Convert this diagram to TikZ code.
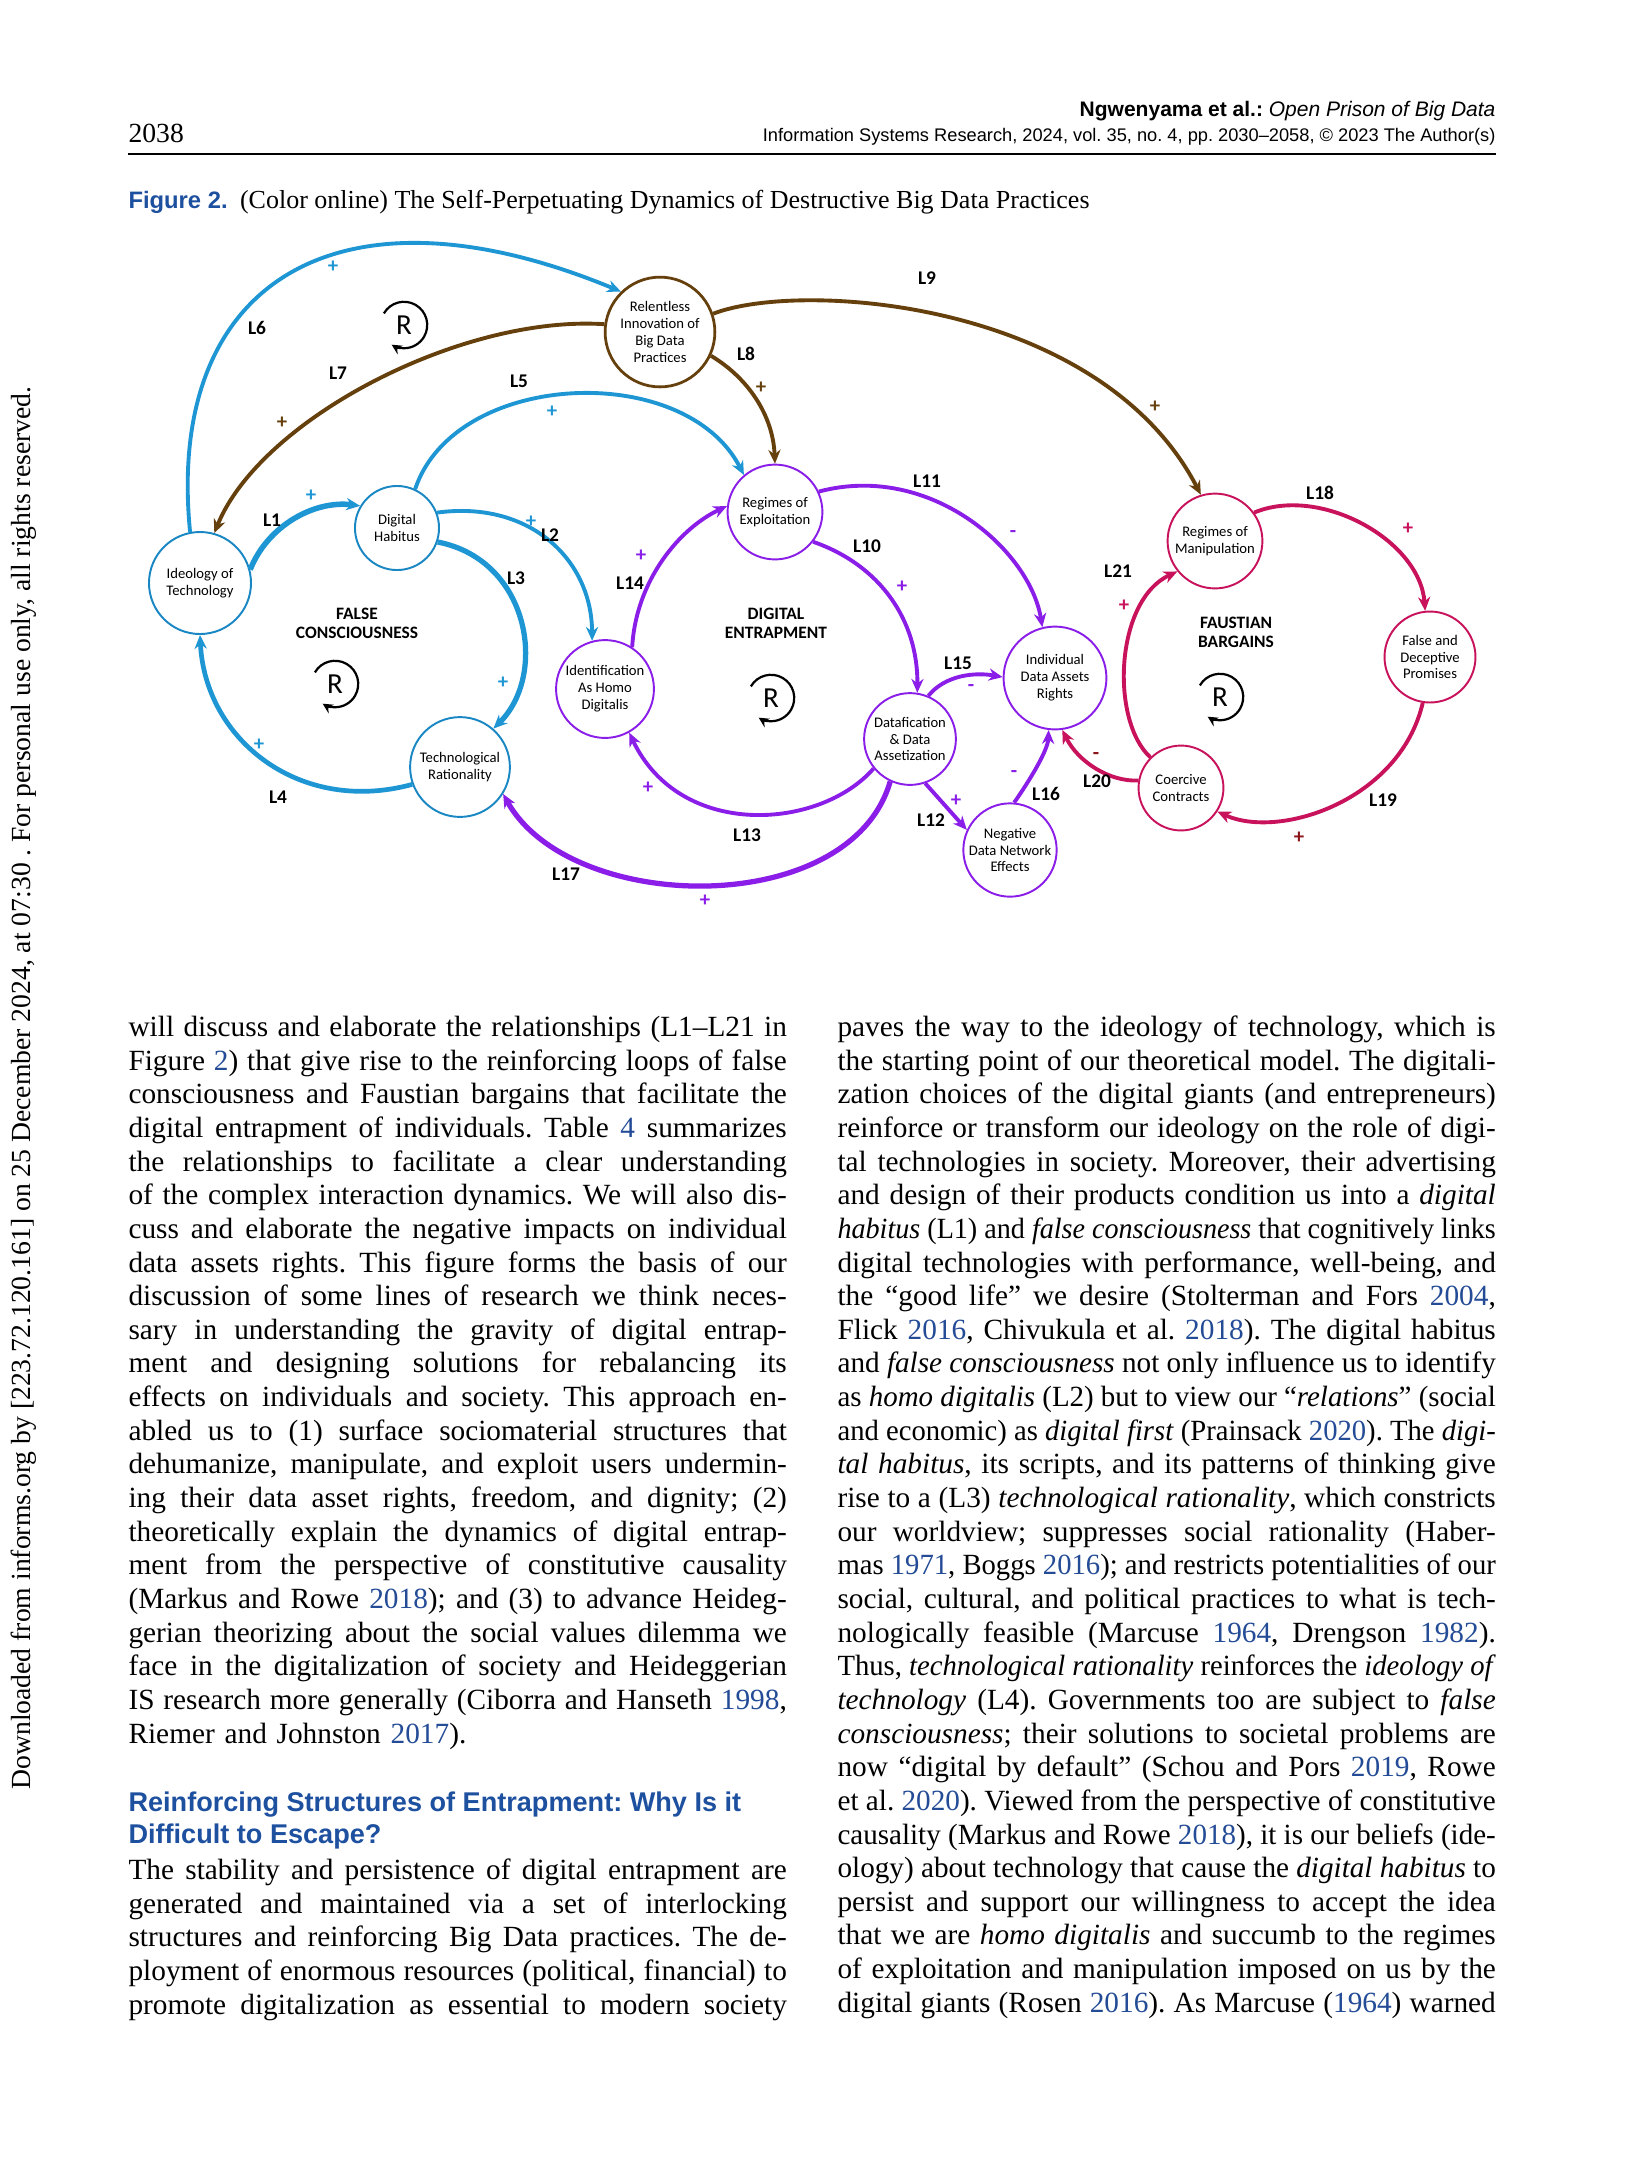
\documentclass[tikz,border=0pt]{standalone}
\usepackage{graphicx}
\usepackage{fontspec}
\setmainfont{Liberation Serif}
\setsansfont{Liberation Sans}
\newfontfamily\figfont{Carlito}
\usetikzlibrary{arrows.meta}
\definecolor{fcblue}{RGB}{30,150,212}
\definecolor{fcring}{RGB}{25,135,195}
\definecolor{bdbrown}{RGB}{102,64,12}
\definecolor{depurple}{RGB}{138,30,232}
\definecolor{fbred}{RGB}{200,18,92}
\definecolor{fbdark}{RGB}{140,20,25}
\definecolor{citeblue}{RGB}{35,75,150}
\definecolor{headblue}{RGB}{30,80,160}
\frenchspacing
\newlength\colw
\setlength\colw{238.1pt}
\newsavebox\linebox
% one justified line of a column (squeezed if it is too long)
\newcommand\jl[1]{\sbox\linebox{\spaceskip=0pt\xspaceskip=0pt #1}%
  \ifdim\wd\linebox>\colw
    \resizebox{\colw}{\height}{\usebox\linebox}%
  \else
    \makebox[\colw][s]{\spaceskip=0pt\xspaceskip=0pt #1}%
  \fi}
\newcommand\yr[1]{\textcolor{citeblue}{#1}}

\begin{document}
\begin{tikzpicture}[x=0.005in,y=-0.005in,>={Stealth[length=5pt,width=4.4pt]},
  var/.style={circle,draw,fill=white,line width=0.7pt,inner sep=0pt,align=center,
    font=\figfont\fontsize{5.3}{6.1}\selectfont},
  link/.style={->,line width=1.4pt},
  lbl/.style={font=\figfont\bfseries\fontsize{7}{8}\selectfont},
  sgn/.style={font=\figfont\bfseries\fontsize{7.5}{8}\selectfont},
  loopname/.style={align=center,font=\figfont\bfseries\fontsize{6.3}{6.8}\selectfont},
  rmark/.style={font=\figfont\fontsize{10.5}{11}\selectfont,inner sep=0pt},
  column/.style={anchor=north west,inner sep=0pt,text width=\colw,align=left,
    font=\fontsize{10.6}{12.17}\selectfont}]
\useasboundingbox (0,0) rectangle (1625,2175);
\fill[white] (0,0) rectangle (1625,2175);

% running head
\node[anchor=base west,inner sep=0pt,font=\fontsize{10}{12}\selectfont] (pnum) at (128,142) {2038};
\node[anchor=base east,inner sep=0pt,font=\sffamily\fontsize{7.6}{9}\selectfont] (runhead) at (1496,116)
  {\textbf{Ngwenyama et al.:} \textit{Open Prison of Big Data}};
\node[anchor=base east,inner sep=0pt,font=\sffamily\fontsize{6.6}{8}\selectfont] (journal) at (1496,141.5)
  {Information Systems Research, 2024, vol.~35, no.~4, pp.~2030–2058, © 2023 The Author(s)};
\draw[line width=0.6pt] (128,154) -- (1496,154);

% side note
\node[anchor=base west,rotate=90,inner sep=0pt,font=\fontsize{10}{11}\selectfont] (dlnote) at (30.5,1790)
  {Downloaded from informs.org by [223.72.120.161] on 25 December 2024, at 07:30 . For personal use only, all rights reserved.};

% caption
\node[anchor=base west,inner sep=0pt] (caption) at (128,208)
  {\textcolor{headblue}{\sffamily\bfseries\fontsize{8.6}{10}\selectfont Figure 2.}\hspace{4.5pt}{\fontsize{9.4}{11}\selectfont (Color online) The Self-Perpetuating Dynamics of Destructive Big Data Practices}};

% variables
\node[var,draw=bdbrown,line width=1pt,minimum size=39.7pt] (relent) at (660,332) {Relentless\\Innovation of\\Big Data\\Practices};
\node[var,draw=fcring,minimum size=36.9pt] (ideo) at (200,583) {Ideology of\\Technology};
\node[var,draw=fcring,minimum size=30.4pt] (habit) at (397,528) {Digital\\Habitus};
\node[var,draw=fcring,minimum size=36.1pt] (techrat) at (460,767) {Technological\\Rationality};
\node[var,draw=depurple,minimum size=34.3pt] (exploit) at (775,512) {Regimes of\\Exploitation};
\node[var,draw=depurple,minimum size=35.4pt] (homo) at (605,689) {Identification\\As Homo\\Digitalis};
\node[var,draw=depurple,minimum size=33.2pt] (datafy) at (910,739) {Datafication\\\& Data\\Assetization};
\node[var,draw=depurple,minimum size=37.2pt] (rights) at (1055,678) {Individual\\Data Assets\\Rights};
\node[var,draw=depurple,minimum size=32.5pt] (netfx) at (1010,850) {Negative\\Data Network\\Effects};
\node[var,draw=fbred,minimum size=34.3pt] (manip) at (1215,541) {Regimes of\\Manipulation};
\node[var,draw=fbred,minimum size=32.9pt] (promise) at (1430,657) {False and\\Deceptive\\Promises};
\node[var,draw=fbred,minimum size=30.7pt] (coerce) at (1181,788) {Coercive\\Contracts};

% loop names
\node[loopname] (fcname) at (357,623) {FALSE\\CONSCIOUSNESS};
\node[loopname] (dename) at (776,623) {DIGITAL\\ENTRAPMENT};
\node[loopname] (fbname) at (1236,632) {FAUSTIAN\\BARGAINS};

% reinforcing markers
\node[rmark] (rtop) at (404,325) {R};
\node[rmark] (rfc) at (335,684) {R};
\node[rmark] (rde) at (771,698) {R};
\node[rmark] (rfb) at (1220,697) {R};
\draw[-{Stealth[length=3.6pt,width=3.6pt]},line width=0.8pt] ([shift={(150:8.4pt)}]rtop.center) arc[start angle=150,end angle=-122,radius=8.4pt];
\draw[-{Stealth[length=3.6pt,width=3.6pt]},line width=0.8pt] ([shift={(150:8.4pt)}]rfc.center) arc[start angle=150,end angle=-122,radius=8.4pt];
\draw[-{Stealth[length=3.6pt,width=3.6pt]},line width=0.8pt] ([shift={(150:8.4pt)}]rde.center) arc[start angle=150,end angle=-122,radius=8.4pt];
\draw[-{Stealth[length=3.6pt,width=3.6pt]},line width=0.8pt] ([shift={(150:8.4pt)}]rfb.center) arc[start angle=150,end angle=-122,radius=8.4pt];

% false consciousness links
\draw[link,fcblue,line width=2pt] (ideo.15) .. controls (268,525) and (315,500) .. (habit.149);
\draw[link,fcblue] (habit.21) .. controls (530,500) and (592,560) .. (homo.105);
\draw[link,fcblue,line width=1.9pt] (habit.-19) .. controls (530,560) and (548,675) .. (techrat.49);
\draw[link,fcblue,line width=1.7pt] (techrat.200) .. controls (300,815) and (205,740) .. (ideo.south);
\draw[link,fcblue] (habit.65) .. controls (455,370) and (685,360) .. (exploit.130);
\draw[link,fcblue] (ideo.101) .. controls (165,280) and (340,175) .. (relent.134);
% big data practices
\draw[link,bdbrown] (relent.172) .. controls (460,315) and (260,420) .. (ideo.74);
\draw[link,bdbrown] (relent.-25) .. controls (748,378) and (773,415) .. (exploit.north);
\draw[link,bdbrown] (relent.19) .. controls (800,280) and (1100,300) .. (manip.107);
% digital entrapment
\draw[link,depurple] (exploit.-38) .. controls (880,565) and (918,620) .. (datafy.81);
\draw[link,depurple] (exploit.25) .. controls (930,462) and (1030,550) .. (rights.104);
\draw[link,depurple] (datafy.-71) -- (netfx.155);
\draw[link,depurple] (datafy.219) .. controls (820,830) and (680,840) .. (homo.-61);
\draw[link,depurple] (homo.57) .. controls (636,580) and (680,528) .. (exploit.173);
\draw[link,depurple] (datafy.67) .. controls (945,675) and (975,672) .. (rights.179);
\draw[link,depurple] (netfx.85) .. controls (1030,780) and (1048,750) .. (rights.263);
\draw[link,depurple,line width=1.9pt] (datafy.245) .. controls (850,920) and (570,915) .. (techrat.-32);
% faustian bargains
\draw[link,fbred] (manip.36) .. controls (1320,485) and (1420,540) .. (promise.96);
\draw[link,fbred] (promise.261) .. controls (1400,800) and (1280,840) .. (coerce.-33);
\draw[link,fbred] (coerce.170) .. controls (1110,782) and (1078,762) .. (rights.-82);
\draw[link,fbred] (coerce.135) .. controls (1110,720) and (1115,600) .. (manip.219);

% link names
\node[lbl] (n1) at (272,520) {L1};
\node[lbl] (n2) at (550,535) {L2};
\node[lbl] (n3) at (516,578) {L3};
\node[lbl] (n4) at (278,797) {L4};
\node[lbl] (n5) at (519,381) {L5};
\node[lbl] (n6) at (257,328) {L6};
\node[lbl] (n7) at (338,373) {L7};
\node[lbl] (n8) at (746,354) {L8};
\node[lbl] (n9) at (927,278) {L9};
\node[lbl] (n10) at (867,546) {L10};
\node[lbl] (n11) at (927,481) {L11};
\node[lbl] (n12) at (931,820) {L12};
\node[lbl] (n13) at (747,835) {L13};
\node[lbl] (n14) at (630,583) {L14};
\node[lbl] (n15) at (958,663) {L15};
\node[lbl] (n16) at (1046,794) {L16};
\node[lbl] (n17) at (566,874) {L17};
\node[lbl] (n18) at (1320,493) {L18};
\node[lbl] (n19) at (1383,800) {L19};
\node[lbl] (n20) at (1097,781) {L20};
\node[lbl] (n21) at (1118,571) {L21};

% polarities
\node[sgn,fcblue] (s1) at (311,496) {+};
\node[sgn,fcblue] (s2) at (531,522) {+};
\node[sgn,fcblue] (s3) at (503,683) {+};
\node[sgn,fcblue] (s4) at (259,745) {+};
\node[sgn,fcblue] (s5) at (552,412) {+};
\node[sgn,fcblue] (s6) at (333,267) {+};
\node[sgn,bdbrown] (s7) at (282,423) {+};
\node[sgn,bdbrown] (s8) at (761,388) {+};
\node[sgn,bdbrown] (s9) at (1155,407) {+};
\node[sgn,depurple] (s10) at (902,587) {+};
\node[sgn,depurple] (s11) at (1013,534) {-};
\node[sgn,depurple] (s12) at (956,801) {+};
\node[sgn,depurple] (s13) at (648,788) {+};
\node[sgn,depurple] (s14) at (641,556) {+};
\node[sgn,depurple] (s15) at (971,688) {-};
\node[sgn,depurple] (s16) at (1014,774) {-};
\node[sgn,depurple] (s17) at (705,901) {+};
\node[sgn,fbred] (s18) at (1408,529) {+};
\node[sgn,fbdark] (s19) at (1299,838) {+};
\node[sgn,fbdark] (s20) at (1096,756) {-};
\node[sgn,fbred] (s21) at (1124,606) {+};

% body text, left column
\node[column] (leftA) at (128,1012.4) {\noindent\strut
\jl{will discuss and elaborate the relationships (L1–L21 in}\\
\jl{Figure \yr{2}) that give rise to the reinforcing loops of false}\\
\jl{consciousness and Faustian bargains that facilitate the}\\
\jl{digital entrapment of individuals. Table \yr{4} summarizes}\\
\jl{the relationships to facilitate a clear understanding}\\
\jl{of the complex interaction dynamics. We will also dis-}\\
\jl{cuss and elaborate the negative impacts on individual}\\
\jl{data assets rights. This figure forms the basis of our}\\
\jl{discussion of some lines of research we think neces-}\\
\jl{sary in understanding the gravity of digital entrap-}\\
\jl{ment and designing solutions for rebalancing its}\\
\jl{effects on individuals and society. This approach en-}\\
\jl{abled us to (1) surface sociomaterial structures that}\\
\jl{dehumanize, manipulate, and exploit users undermin-}\\
\jl{ing their data asset rights, freedom, and dignity; (2)}\\
\jl{theoretically explain the dynamics of digital entrap-}\\
\jl{ment from the perspective of constitutive causality}\\
\jl{(Markus and Rowe \yr{2018}); and (3) to advance Heideg-}\\
\jl{gerian theorizing about the social values dilemma we}\\
\jl{face in the digitalization of society and Heideggerian}\\
\jl{IS research more generally (Ciborra and Hanseth \yr{1998},}\\
Riemer and Johnston \yr{2017}).};
\node[anchor=north west,inner sep=0pt,align=left,text=headblue,font=\sffamily\bfseries\fontsize{9.8}{11.6}\selectfont] (heading) at (128,1788.5)
  {\strut Reinforcing Structures of Entrapment: Why Is it\\Difficult to Escape?};
\node[column] (leftB) at (128,1855.4) {\noindent\strut
\jl{The stability and persistence of digital entrapment are}\\
\jl{generated and maintained via a set of interlocking}\\
\jl{structures and reinforcing Big Data practices. The de-}\\
\jl{ployment of enormous resources (political, financial) to}\\
\jl{promote digitalization as essential to modern society}};

% body text, right column
\node[column] (right) at (837,1012.4) {\noindent\strut
\jl{paves the way to the ideology of technology, which is}\\
\jl{the starting point of our theoretical model. The digitali-}\\
\jl{zation choices of the digital giants (and entrepreneurs)}\\
\jl{reinforce or transform our ideology on the role of digi-}\\
\jl{tal technologies in society. Moreover, their advertising}\\
\jl{and design of their products condition us into a \textit{digital}}\\
\jl{\textit{habitus} (L1) and \textit{false consciousness} that cognitively links}\\
\jl{digital technologies with performance, well-being, and}\\
\jl{the “good life” we desire (Stolterman and Fors \yr{2004},}\\
\jl{Flick \yr{2016}, Chivukula et al. \yr{2018}). The digital habitus}\\
\jl{and \textit{false consciousness} not only influence us to identify}\\
\jl{as \textit{homo digitalis} (L2) but to view our “\textit{relations}” (social}\\
\jl{and economic) as \textit{digital first} (Prainsack \yr{2020}). The \textit{digi-}}\\
\jl{\textit{tal habitus}, its scripts, and its patterns of thinking give}\\
\jl{rise to a (L3) \textit{technological rationality}, which constricts}\\
\jl{our worldview; suppresses social rationality (Haber-}\\
\jl{mas \yr{1971}, Boggs \yr{2016}); and restricts potentialities of our}\\
\jl{social, cultural, and political practices to what is tech-}\\
\jl{nologically feasible (Marcuse \yr{1964}, Drengson \yr{1982}).}\\
\jl{Thus, \textit{technological rationality} reinforces the \textit{ideology of}}\\
\jl{\textit{technology} (L4). Governments too are subject to \textit{false}}\\
\jl{\textit{consciousness}; their solutions to societal problems are}\\
\jl{now “digital by default” (Schou and Pors \yr{2019}, Rowe}\\
\jl{et al. \yr{2020}). Viewed from the perspective of constitutive}\\
\jl{causality (Markus and Rowe \yr{2018}), it is our beliefs (ide-}\\
\jl{ology) about technology that cause the \textit{digital habitus} to}\\
\jl{persist and support our willingness to accept the idea}\\
\jl{that we are \textit{homo digitalis} and succumb to the regimes}\\
\jl{of exploitation and manipulation imposed on us by the}\\
\jl{digital giants (Rosen \yr{2016}). As Marcuse (\yr{1964}) warned}};
\end{tikzpicture}
\end{document}
